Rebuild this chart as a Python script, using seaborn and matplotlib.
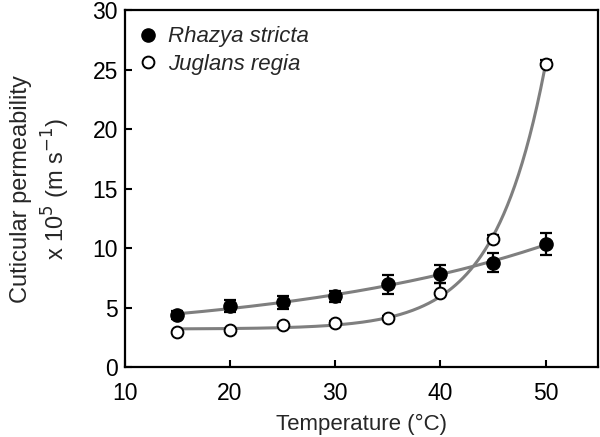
import numpy as np
import pandas as pd
import seaborn as sns
import matplotlib
matplotlib.use("Agg")
import matplotlib.pyplot as plt

# Data
temperature = [15, 20, 25, 30, 35, 40, 45, 50]
rhazya = [4.35, 5.1, 5.45, 5.95, 6.95, 7.85, 8.75, 10.35]
rhazya_err = [0.35, 0.5, 0.55, 0.45, 0.8, 0.75, 0.8, 0.9]
juglans = [2.95, 3.1, 3.5, 3.7, 4.1, 6.2, 10.8, 25.5]
juglans_err = [0.1, 0.1, 0.15, 0.15, 0.2, 0.85, 0.3, 0.3]


def exp_fit(x, y):
    # fit y = y0 + a*exp(b*x) by scanning b and solving y0, a by least squares
    x = np.asarray(x, float)
    y = np.asarray(y, float)
    best = None
    for b in np.linspace(0.005, 0.4, 2000):
        A = np.column_stack([np.ones_like(x), np.exp(b * x)])
        coef, *_ = np.linalg.lstsq(A, y, rcond=None)
        sse = np.sum((A @ coef - y) ** 2)
        if best is None or sse < best[0]:
            best = (sse, coef[0], coef[1], b)
    _, y0, a, b = best
    return lambda t: y0 + a * np.exp(b * t)


sns.set_theme(style="ticks")
plt.rcParams["font.family"] = ["Liberation Sans", "DejaVu Sans"]

fig = plt.figure(figsize=(6, 4.37), dpi=100)
ax = fig.add_axes([0.208, 0.16, 0.789, 0.817])

xs = np.linspace(15, 50, 300)
fits = pd.DataFrame({
    "x": np.concatenate([xs, xs]),
    "y": np.concatenate([exp_fit(temperature, rhazya)(xs), exp_fit(temperature, juglans)(xs)]),
    "species": ["Rhazya"] * len(xs) + ["Juglans"] * len(xs),
})
sns.lineplot(data=fits, x="x", y="y", units="species", estimator=None,
             color="#7f7f7f", lw=2.2, ax=ax, zorder=1)

ax.errorbar(temperature, rhazya, yerr=rhazya_err, fmt="none", ecolor="black",
            elinewidth=1.6, capsize=4, capthick=1.6, zorder=2)
ax.errorbar(temperature, juglans, yerr=[np.zeros(len(juglans)), juglans_err], fmt="none",
            ecolor="black", elinewidth=1.6, capsize=4, capthick=1.6, zorder=2)

ax.plot(temperature, rhazya, "o", color="black", ms=9.5, zorder=3, label="Rhazya stricta")
ax.plot(temperature, juglans, "o", mfc="white", mec="black", mew=1.4, ms=8.5, zorder=3,
        label="Juglans regia")

ax.set_xlim(10, 55)
ax.set_ylim(0, 30)
ax.set_xticks([10, 20, 30, 40, 50])
ax.set_yticks([0, 5, 10, 15, 20, 25, 30])
ax.tick_params(direction="in", length=5, width=1.5, labelsize=16.5, colors="black")
ax.tick_params(axis="x", pad=11)
ax.tick_params(axis="y", pad=5)
for s in ax.spines.values():
    s.set_linewidth(1.6)
    s.set_color("black")

ax.set_xlabel("Temperature (\u00b0C)", fontsize=16, labelpad=6)
ax.set_ylabel("Cuticular permeability\nx 10$^{5}$ (m s$^{-1}$)", fontsize=17, labelpad=15,
              linespacing=1.3)

leg = ax.legend(loc="upper left", frameon=False, fontsize=16, handletextpad=0.3,
                borderaxespad=0.5, labelspacing=0.3, handlelength=1.2,
                bbox_to_anchor=(-0.021, 1.01))
for t in leg.get_texts():
    t.set_fontstyle("italic")

fig.savefig("out.png", dpi=100)
